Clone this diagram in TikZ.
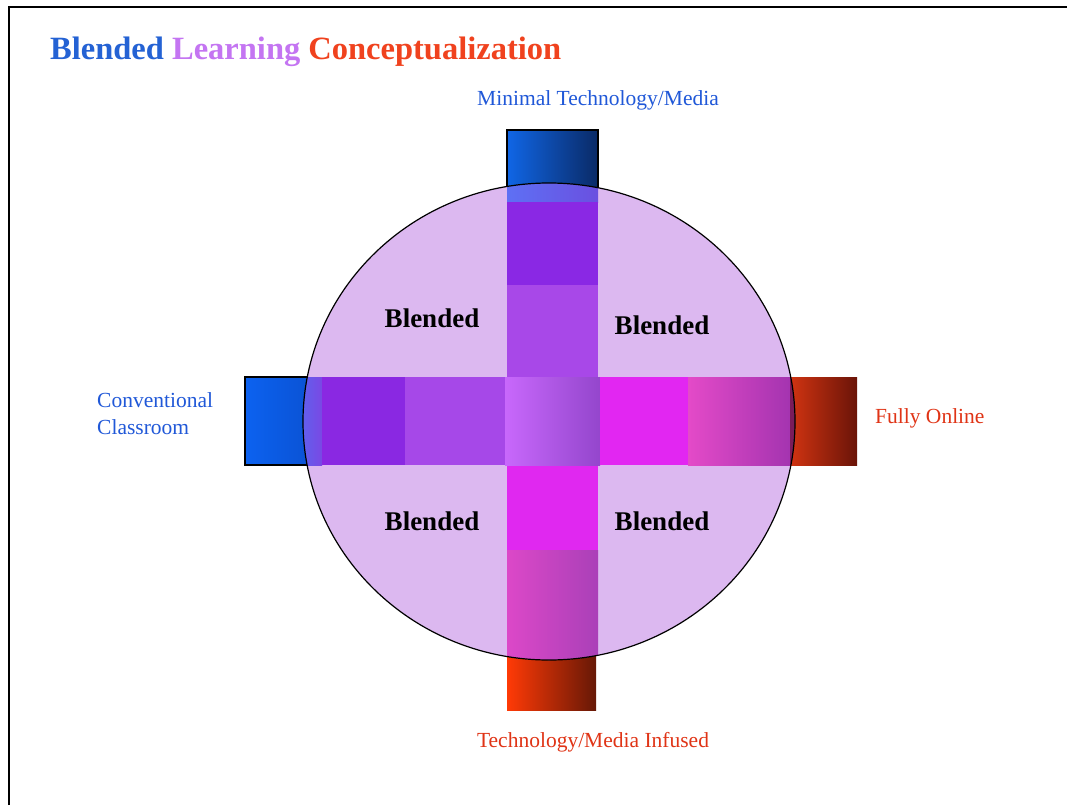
\documentclass[tikz,border=0pt]{standalone}
\usepackage{fontspec}
\setmainfont{Liberation Serif}
\definecolor{ttblue}{HTML}{2462D4}
\definecolor{ttpurple}{HTML}{C475F2}
\definecolor{ttred}{HTML}{F0421E}
\definecolor{lblblue}{HTML}{2058D8}
\definecolor{lblred}{HTML}{E03416}
\definecolor{disc}{HTML}{DCB8F0}
\definecolor{tbL}{HTML}{1066E6}\definecolor{tbR}{HTML}{0A2A66}
\definecolor{lbL}{HTML}{0C62F0}\definecolor{lbR}{HTML}{0A50D0}
\definecolor{rbL}{HTML}{D83612}\definecolor{rbR}{HTML}{6A1408}
\definecolor{bbL}{HTML}{FF3A06}\definecolor{bbR}{HTML}{661806}
\definecolor{vA}{HTML}{5E70F4}\definecolor{vAr}{HTML}{6A50E0}
\definecolor{vB}{HTML}{8A28E4}
\definecolor{vC}{HTML}{A848E8}
\definecolor{vD}{HTML}{E028F0}
\definecolor{vE}{HTML}{DC48C8}\definecolor{vEr}{HTML}{AA40B8}
\definecolor{hA}{HTML}{5868F0}\definecolor{hAr}{HTML}{7A48E4}
\definecolor{hB}{HTML}{8A28E2}
\definecolor{hC}{HTML}{A648E8}
\definecolor{hM}{HTML}{C868FC}\definecolor{hMr}{HTML}{9446CC}
\definecolor{hD}{HTML}{E226F2}
\definecolor{hE}{HTML}{E44AC8}\definecolor{hEr}{HTML}{A434B0}
\definecolor{hF}{HTML}{7A1C5A}
\tikzset{
  lbl/.style={inner sep=0pt, font=\fontsize{21.5}{27}\selectfont},
  blend/.style={inner sep=0pt, font=\fontsize{27}{32}\selectfont\bfseries, text=black},
}
\begin{document}
\begin{tikzpicture}[x=1pt,y=-1pt]
\useasboundingbox (0,0) rectangle (1067,805);
\fill[white] (0,0) rectangle (1067,805);
% frame
\draw[line width=2.5pt] (9,805) -- (9,7) -- (1067,7);
% title
\node[anchor=base west, inner sep=0pt, font=\fontsize{32.5}{38}\selectfont\bfseries] (title) at (50,60)
  {\textcolor{ttblue}{Blended} \textcolor{ttpurple}{Learning} \textcolor{ttred}{Conceptualization}};
% outer boxes
\shade[left color=tbL, right color=tbR] (507,130) rectangle (598,205);
\draw[line width=1.2pt] (507,205) -- (507,130) -- (598,130) -- (598,205);
\shade[left color=lbL, right color=lbR] (245,377) rectangle (320,465);
\draw[line width=1.2pt] (320,377) -- (245,377) -- (245,465) -- (320,465);
\shade[left color=rbL, right color=rbR] (785,377) rectangle (857,465);
\shade[left color=bbL, right color=bbR] (507,640) rectangle (596,710);
% disc
\fill[disc] (549,421.5) ellipse [x radius=246pt, y radius=238.5pt];
\begin{scope}
\clip (549,421.5) ellipse [x radius=246pt, y radius=238.5pt];
% vertical band
\shade[left color=vA, right color=vAr] (507,170) rectangle (598,202);
\fill[vB] (507,202) rectangle (598,285);
\fill[vC] (507,285) rectangle (598,377);
\fill[vD] (507,465) rectangle (598,550);
\shade[left color=vE, right color=vEr] (507,550) rectangle (598,680);
% horizontal band
\shade[left color=hA, right color=hAr] (295,377) rectangle (322,465);
\fill[hB] (322,377) rectangle (405,465);
\fill[hC] (405,377) rectangle (505,465);
\shade[left color=hM, right color=hMr] (505,377) rectangle (600,465);
\fill[hD] (600,377) rectangle (688,465);
\shade[left color=hE, right color=hEr] (688,377) rectangle (790,465);
\fill[hF] (790,377) rectangle (800,465);
\end{scope}
\draw[line width=1.2pt] (549,421.5) ellipse [x radius=246pt, y radius=238.5pt];
% labels
\node[lbl, text=lblblue] (top) at (598,100) {Minimal Technology/Media};
\node[lbl, text=lblblue, anchor=west, align=left] (left) at (97,414) {Conventional\\Classroom};
\node[lbl, text=lblred, anchor=west] (right) at (875,418) {Fully Online};
\node[lbl, text=lblred] (bottom) at (593,742) {Technology/Media Infused};
\node[blend] (b1) at (432,318) {Blended};
\node[blend] (b2) at (662,325) {Blended};
\node[blend] (b3) at (432,521) {Blended};
\node[blend] (b4) at (662,521) {Blended};
\end{tikzpicture}
\end{document}
